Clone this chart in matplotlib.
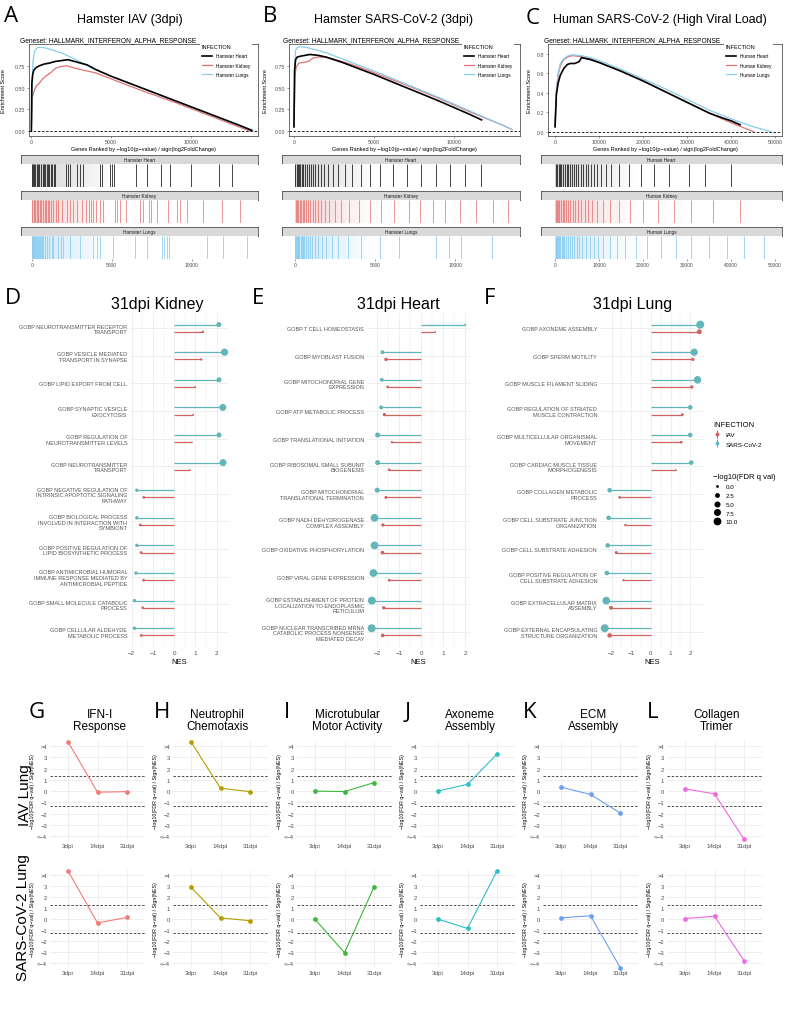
import numpy as np
import matplotlib
matplotlib.use('Agg')
import matplotlib.pyplot as plt
from matplotlib.lines import Line2D
from matplotlib.colors import LinearSegmentedColormap

plt.rcParams['font.family'] = ['Liberation Sans', 'DejaVu Sans']
plt.rcParams['axes.unicode_minus'] = True

W, H = 788, 1020

# ---------------- data: GSEA running enrichment score ----------------
gsea_titles = ['Hamster IAV (3dpi)', 'Hamster SARS-CoV-2 (3dpi)', 'Human SARS-CoV-2 (High Viral Load)']
gsea_species = ['Hamster', 'Hamster', 'Human']
tissues = ['Heart', 'Kidney', 'Lungs']

a_heart_x = [0, 30, 80, 150, 300, 500, 800, 1100, 1500, 1900, 2300, 2700, 3100, 3500, 4000, 5000, 7000, 9000, 11000, 13000, 13800]
a_heart_es = [0.0, 0.55, 0.65, 0.70, 0.73, 0.75, 0.77, 0.78, 0.80, 0.81, 0.82, 0.80, 0.78, 0.76, 0.71, 0.63, 0.49, 0.35, 0.21, 0.07, 0.01]
a_kidney_x = [0, 50, 150, 300, 500, 700, 900, 1200, 1500, 1800, 2200, 3000, 4000, 5000, 7000, 9000, 11000, 13000, 13700]
a_kidney_es = [0.05, 0.38, 0.45, 0.52, 0.55, 0.60, 0.63, 0.67, 0.72, 0.74, 0.75, 0.71, 0.67, 0.60, 0.46, 0.33, 0.19, 0.05, 0.0]
a_lungs_x = [0, 40, 100, 200, 400, 700, 1000, 1500, 2000, 3000, 4000, 5000, 7000, 9000, 11000, 13000, 13900]
a_lungs_es = [0.05, 0.45, 0.80, 0.92, 0.96, 0.96, 0.95, 0.92, 0.89, 0.80, 0.71, 0.63, 0.49, 0.35, 0.21, 0.07, 0.01]

b_heart_x = [0, 40, 100, 200, 400, 700, 1000, 1500, 2000, 3000, 4000, 5000, 7000, 9000, 11000, 11700]
b_heart_es = [0.05, 0.70, 0.82, 0.85, 0.86, 0.87, 0.88, 0.87, 0.85, 0.79, 0.72, 0.65, 0.50, 0.35, 0.19, 0.13]
b_kidney_x = [0, 60, 150, 300, 600, 900, 1200, 1500, 2000, 3000, 4000, 5000, 7000, 9000, 11000, 13000, 13600]
b_kidney_es = [0.05, 0.65, 0.74, 0.78, 0.79, 0.80, 0.84, 0.85, 0.85, 0.80, 0.74, 0.67, 0.53, 0.38, 0.22, 0.07, 0.02]
b_lungs_x = [0, 40, 100, 200, 400, 800, 1200, 2000, 3000, 4000, 5000, 7000, 9000, 11000, 13000, 13600]
b_lungs_es = [0.08, 0.75, 0.92, 0.96, 0.97, 0.96, 0.94, 0.90, 0.83, 0.76, 0.69, 0.54, 0.39, 0.23, 0.07, 0.02]

c_heart_x = [0, 300, 700, 1200, 2000, 2800, 3500, 4500, 5500, 6000, 7000, 8000, 10000, 15000, 20000, 25000, 30000, 35000, 38000, 40000, 42000]
c_heart_es = [0.05, 0.38, 0.50, 0.58, 0.65, 0.69, 0.70, 0.70, 0.72, 0.76, 0.75, 0.74, 0.71, 0.62, 0.52, 0.41, 0.30, 0.19, 0.14, 0.11, 0.07]
c_kidney_x = [0, 300, 700, 1200, 2000, 3000, 4000, 6000, 8000, 10000, 15000, 20000, 25000, 30000, 35000, 40000, 45000]
c_kidney_es = [0.05, 0.42, 0.58, 0.68, 0.74, 0.77, 0.78, 0.77, 0.75, 0.71, 0.62, 0.52, 0.41, 0.30, 0.19, 0.09, 0.0]
c_lungs_x = [0, 300, 700, 1200, 2000, 3000, 4000, 6000, 8000, 10000, 15000, 20000, 25000, 30000, 35000, 40000, 45000, 49000]
c_lungs_es = [0.05, 0.40, 0.60, 0.70, 0.75, 0.78, 0.79, 0.78, 0.76, 0.73, 0.64, 0.54, 0.44, 0.33, 0.22, 0.13, 0.05, 0.0]

# gene-set hit positions (rank) for the barcode panels
a_heart_hits = [40, 100, 170, 230, 310, 400, 480, 560, 690, 750, 830, 940, 1020, 1100, 1190, 1290, 1400, 1480,
                2150, 2250, 2400, 2850, 3020, 3230, 4270, 4420, 4900, 5020, 5170, 6520, 7210, 8100, 8650, 9980, 11730, 12540]
a_kidney_hits = [40, 125, 210, 310, 415, 500, 600, 730, 810, 920, 1000, 1100, 1230, 1350, 1500, 1670, 1875, 2190,
                 2400, 2600, 2810, 3125, 3400, 3600, 3690, 3810, 4000, 4270, 4480, 5210, 5350, 5520, 5900, 6770,
                 6940, 7310, 7460, 7810, 8540, 9060, 9270, 9690, 10730, 11880, 13020]
a_lungs_hits = [20, 60, 110, 160, 210, 260, 320, 380, 440, 500, 560, 620, 690, 830, 940, 1100, 1250, 1350, 1670,
                1830, 1980, 2400, 3020, 3850, 4060, 4270, 5100, 6460, 7190, 8170, 8270, 8440, 8600, 10940, 11980, 13440]
b_heart_hits = [30, 100, 170, 250, 330, 420, 520, 620, 730, 850, 980, 1120, 1260, 1420, 1600, 1800, 2050, 2350,
                2700, 3100, 3550, 4150, 4700, 5300, 6100, 7000, 7900, 8800, 9700, 10600, 11600]
b_kidney_hits = [40, 120, 200, 290, 380, 480, 580, 700, 820, 950, 1100, 1250, 1420, 1600, 1850, 2150, 2500, 2900,
                 3400, 4000, 4700, 5400, 6200, 7100, 7800, 8600, 9400, 10300, 11300, 12400, 13300]
b_lungs_hits = [20, 60, 110, 160, 220, 280, 350, 420, 500, 590, 690, 800, 930, 1080, 1250, 1450, 1700, 1950,
                2300, 2700, 3300, 4100, 5300, 6500, 8800, 9600, 10400, 12300]
c_heart_hits = [200, 500, 800, 1100, 1400, 1800, 2200, 2600, 3000, 3400, 3800, 4300, 4800, 5300, 5800, 6400, 7000,
                7600, 8200, 8900, 9600, 10400, 11500, 12800, 14500, 16800, 19500, 22500, 26000, 30500, 34000, 40000]
c_kidney_hits = [150, 400, 700, 1000, 1300, 1700, 2100, 2500, 3000, 3500, 4000, 4600, 5200, 5900, 6700, 7500, 8400,
                 9500, 11000, 12500, 14500, 17000, 20000, 23500, 27000, 31000, 36000, 42000]
c_lungs_hits = [100, 300, 500, 700, 900, 1200, 1500, 1800, 2100, 2500, 2900, 3300, 3800, 4300, 4900, 5500, 6200,
                7000, 7900, 8800, 9800, 11000, 12500, 14000, 16000, 18500, 21000, 24000, 27500, 31000, 35000,
                39000, 43000, 47500]

# ---------------- data: 31dpi lollipops ----------------
d_terms = ['GOBP NEUROTRANSMITTER RECEPTOR\nTRANSPORT', 'GOBP VESICLE MEDIATED\nTRANSPORT IN SYNAPSE',
           'GOBP LIPID EXPORT FROM CELL', 'GOBP SYNAPTIC VESICLE\nEXOCYTOSIS',
           'GOBP REGULATION OF\nNEUROTRANSMITTER LEVELS', 'GOBP NEUROTRANSMITTER\nTRANSPORT',
           'GOBP NEGATIVE REGULATION OF\nINTRINSIC APOPTOTIC SIGNALING\nPATHWAY',
           'GOBP BIOLOGICAL PROCESS\nINVOLVED IN INTERACTION WITH\nSYMBIONT',
           'GOBP POSITIVE REGULATION OF\nLIPID BIOSYNTHETIC PROCESS',
           'GOBP ANTIMICROBIAL HUMORAL\nIMMUNE RESPONSE MEDIATED BY\nANTIMICROBIAL PEPTIDE',
           'GOBP SMALL MOLECULE CATABOLIC\nPROCESS', 'GOBP CELLULAR ALDEHYDE\nMETABOLIC PROCESS']
d_sars_nes = [2.10, 2.37, 2.11, 2.29, 2.11, 2.30, -1.76, -1.76, -1.76, -1.80, -1.87, -1.87]
d_sars_q = [6, 13, 6, 12, 6, 12, 2.5, 2.5, 2.5, 2.5, 2.5, 2.5]
d_iav_nes = [1.35, 1.27, 0.98, 0.90, 0.83, 0.75, -1.43, -1.60, -1.56, -1.44, -1.48, -1.55]
d_iav_q = [1, 1, 0.5, 0.3, 0, 0, 1.5, 1.5, 1.5, 1.5, 1.5, 1.5]

e_terms = ['GOBP T CELL HOMEOSTASIS', 'GOBP MYOBLAST FUSION', 'GOBP MITOCHONDRIAL GENE\nEXPRESSION',
           'GOBP ATP METABOLIC PROCESS', 'GOBP TRANSLATIONAL INITIATION',
           'GOBP RIBOSOMAL SMALL SUBUNIT\nBIOGENESIS', 'GOBP MITOCHONDRIAL\nTRANSLATIONAL TERMINATION',
           'GOBP NADH DEHYDROGENASE\nCOMPLEX ASSEMBLY', 'GOBP OXIDATIVE PHOSPHORYLATION',
           'GOBP VIRAL GENE EXPRESSION',
           'GOBP ESTABLISHMENT OF PROTEIN\nLOCALIZATION TO ENDOPLASMIC\nRETICULUM',
           'GOBP NUCLEAR TRANSCRIBED MRNA\nCATABOLIC PROCESS NONSENSE\nMEDIATED DECAY']
e_sars_nes = [2.00, -1.76, -1.79, -1.82, -1.98, -1.98, -2.00, -2.12, -2.12, -2.17, -2.24, -2.25]
e_sars_q = [0.5, 3.5, 3.5, 3.5, 6, 6, 6, 15, 15, 15, 16, 16]
e_iav_nes = [0.64, -1.60, -1.52, -1.67, -1.33, -1.45, -1.60, -1.74, -1.76, -1.45, -1.70, -1.75]
e_iav_q = [0, 2.5, 1.5, 2.5, 1, 1.5, 2, 2.5, 3, 1.5, 2.5, 3]

f_terms = ['GOBP AXONEME ASSEMBLY', 'GOBP SPERM MOTILITY', 'GOBP MUSCLE FILAMENT SLIDING',
           'GOBP REGULATION OF STRIATED\nMUSCLE CONTRACTION', 'GOBP MULTICELLULAR ORGANISMAL\nMOVEMENT',
           'GOBP CARDIAC MUSCLE TISSUE\nMORPHOGENESIS', 'GOBP COLLAGEN METABOLIC\nPROCESS',
           'GOBP CELL SUBSTRATE JUNCTION\nORGANIZATION', 'GOBP CELL SUBSTRATE ADHESION',
           'GOBP POSITIVE REGULATION OF\nCELL SUBSTRATE ADHESION', 'GOBP EXTRACELLULAR MATRIX\nASSEMBLY',
           'GOBP EXTERNAL ENCAPSULATING\nSTRUCTURE ORGANIZATION']
f_sars_nes = [2.51, 2.20, 2.37, 2.00, 2.00, 2.05, -2.10, -2.15, -2.20, -2.24, -2.27, -2.35]
f_sars_q = [16, 13, 14, 5, 5, 5, 5, 5, 5, 5, 15, 16]
f_iav_nes = [2.46, 2.13, 2.08, 1.60, 1.54, 1.27, -1.59, -1.30, -1.76, -1.39, -2.03, -2.10]
f_iav_q = [6, 2.5, 2.5, 1.5, 1.5, 0, 1.5, 1, 2, 1, 3.5, 5]

q_levels = [0.0, 2.5, 5.0, 7.5, 10.0]

# ---------------- data: lung time courses ----------------
tc_letters = ['G', 'H', 'I', 'J', 'K', 'L']
tc_titles = ['IFN-I\nResponse', 'Neutrophil\nChemotaxis', 'Microtubular\nMotor Activity',
             'Axoneme\nAssembly', 'ECM\nAssembly', 'Collagen\nTrimer']
timepoints = ['3dpi', '14dpi', '31dpi']
tc_iav = [[4.4, -0.10, -0.05], [4.4, 0.25, -0.05], [0.0, -0.05, 0.75],
          [0.0, 0.60, 3.3], [0.35, -0.30, -1.95], [0.2, -0.25, -4.3]]
tc_sars = [[4.4, -0.35, 0.15], [2.9, 0.10, -0.15], [0.0, -3.05, 2.95],
           [0.0, -0.85, 4.4], [0.1, 0.30, -4.4], [0.05, 0.25, -3.8]]
tc_yticks = [4, 3, 2, 1, 0, -1, -2, -3, -4]
tc_yticklabels = ['>4', '3', '2', '1', '0', '\u22121', '\u22122', '\u22123', '<\u22124']

# ---------------- styling ----------------
tissue_cols = ['black', '#E27272', '#87CEEB']
bar_cols = ['black', '#E26D6D', '#7EC8EE']
grad_cols = ['#9A9A9A', '#E89090', '#8CCBEF']
SARS_COL = '#62B5B8'
IAV_COL = '#D0625F'
tc_cols = ['#F07C75', '#B79F00', '#3DB83C', '#2DBFC4', '#6C9FF5', '#EE6AE0']
GRID = '#EBEBEB'
TICK = '#4D4D4D'
LETTER_FONT = ['Open Sans', 'DejaVu Sans']

fig = plt.figure(figsize=(W / 100, H / 100), dpi=100)


def px_axes(l, t, r, b):
    return fig.add_axes([l / W, 1 - b / H, (r - l) / W, (b - t) / H])


def px_text(x, y, s, **kw):
    kw.setdefault('ha', 'center')
    kw.setdefault('va', 'center')
    fig.text(x / W, 1 - y / H, s, **kw)


def qsize(q):
    return 1 + 2.0 * np.asarray(q, dtype=float)


# ================= A-C : GSEA plots =================
curves = [
    [(a_heart_x, a_heart_es), (a_kidney_x, a_kidney_es), (a_lungs_x, a_lungs_es)],
    [(b_heart_x, b_heart_es), (b_kidney_x, b_kidney_es), (b_lungs_x, b_lungs_es)],
    [(c_heart_x, c_heart_es), (c_kidney_x, c_kidney_es), (c_lungs_x, c_lungs_es)],
]
hits = [
    [a_heart_hits, a_kidney_hits, a_lungs_hits],
    [b_heart_hits, b_kidney_hits, b_lungs_hits],
    [c_heart_hits, c_kidney_hits, c_lungs_hits],
]
top_boxes = [(29, 45, 258, 137), (289, 45, 520, 137), (548, 45, 782, 137)]
top_xlims = [(-150, 14200), (-310, 14100), (-1600, 51500)]
top_ylims = [(-0.055, 1.0), (-0.055, 1.0), (-0.045, 0.9)]
top_yticks = [[0, 0.25, 0.5, 0.75], [0, 0.25, 0.5, 0.75], [0, 0.2, 0.4, 0.6, 0.8]]
top_yfmt = ['{:.2f}', '{:.2f}', '{:.1f}']
x_ticks = [[0, 5000, 10000], [0, 5000, 10000], [0, 10000, 20000, 30000, 40000, 50000]]
letters_abc = [('A', 11, 17), ('B', 270, 17), ('C', 533, 18)]
title_x = [130, 393, 660]
geneset_x = [20, 283, 544]
ylab_x = [6, 268, 532]

bar_spans = [(21, 258), (282, 520), (541, 782)]
bar_xlims = [(-670, 14140), (-810, 14060), (-3200, 51600)]
strip_rows = [(156, 165, 188), (192, 201, 224), (228, 237, 260)]

for i in range(3):
    l, t, r, b = top_boxes[i]
    ax = px_axes(l, t, r, b)
    for j, (xs, es) in enumerate(curves[i]):
        ax.plot(xs, es, color=tissue_cols[j], lw=1.2 if j == 0 else 0.9,
                label=f'{gsea_species[i]} {tissues[j]}', zorder=4 if j == 0 else 3)
    ax.axhline(0, color='black', ls='--', lw=0.6, dashes=(3, 2))
    ax.set_xlim(*top_xlims[i])
    ax.set_ylim(*top_ylims[i])
    ax.set_xticks(x_ticks[i])
    ax.set_xticklabels([str(v) for v in x_ticks[i]])
    ax.set_yticks(top_yticks[i])
    ax.set_yticklabels([top_yfmt[i].format(v) for v in top_yticks[i]])
    ax.tick_params(labelsize=3.8, colors=TICK, length=1.5, width=0.4, pad=1)
    for s in ax.spines.values():
        s.set_linewidth(0.5)
        s.set_color('#333333')
    ax.set_xlabel('Genes Ranked by \u2212log10(p\u2212value) / sign(log2FoldChange)', fontsize=4, labelpad=1)
    ax.set_ylabel('Enrichment Score', fontsize=4, labelpad=1)
    ax.yaxis.set_label_coords((ylab_x[i] - l) / (r - l), 0.5)
    leg = ax.legend(title='INFECTION', loc='upper left',
                    bbox_to_anchor=((r - 60 - l) / (r - l), 1.04), fontsize=3.4,
                    title_fontsize=4, frameon=True, framealpha=1, edgecolor='none',
                    handlelength=2.2, borderpad=0.3, labelspacing=0.9, fancybox=False)
    leg._legend_box.align = 'left'
    px_text(title_x[i], 20, gsea_titles[i], fontsize=9)
    px_text(geneset_x[i], 41, 'Geneset: HALLMARK_INTERFERON_ALPHA_RESPONSE', fontsize=4.8, ha='left')
    lt, lx, ly = letters_abc[i]
    px_text(lx, ly, lt, fontsize=16, family=LETTER_FONT)

    # barcode panels
    bl, br = bar_spans[i]
    for j in range(3):
        st, pt, pb = strip_rows[j]
        sax = px_axes(bl, st, br, pt)
        sax.set_facecolor('#D9D9D9')
        sax.set_xticks([])
        sax.set_yticks([])
        for s in sax.spines.values():
            s.set_linewidth(0.5)
            s.set_color('#333333')
        sax.text(0.5, 0.5, f'{gsea_species[i]} {tissues[j]}', fontsize=3.4, ha='center',
                 va='center', transform=sax.transAxes, color='#1A1A1A')
        bax = px_axes(bl, pt, br, pb)
        xmax = bar_xlims[i][1]
        cmap = LinearSegmentedColormap.from_list('g', [grad_cols[j], 'white'])
        bax.imshow(np.linspace(0, 1, 200)[None, :], extent=(0, xmax * 0.35, 0, 1), aspect='auto',
                   cmap=cmap, alpha=0.45, zorder=0)
        bax.vlines(hits[i][j], 0, 1, color=bar_cols[j], lw=0.6, alpha=0.85, zorder=2)
        bax.set_xlim(*bar_xlims[i])
        bax.set_ylim(0, 1)
        bax.set_yticks([])
        for s in bax.spines.values():
            s.set_visible(False)
        if j == 2:
            bax.set_xticks(x_ticks[i])
            bax.set_xticklabels([str(v) for v in x_ticks[i]])
            bax.tick_params(labelsize=3.5, colors=TICK, length=1.5, width=0.4, pad=1)
        else:
            bax.set_xticks([])

# ================= D-F : 31dpi lollipops =================
loll = [
    (d_terms, d_sars_nes, d_sars_q, d_iav_nes, d_iav_q),
    (e_terms, e_sars_nes, e_sars_q, e_iav_nes, e_iav_q),
    (f_terms, f_sars_nes, f_sars_q, f_iav_nes, f_iav_q),
]
loll_titles = ['31dpi Kidney', '31dpi Heart', '31dpi Lung']
loll_boxes = [(130, 314, 229, 648), (367, 314, 470, 648), (600, 314, 705, 648)]
loll_xlims = [(-2.08, 2.58), (-2.46, 2.21), (-2.59, 2.75)]
loll_title_x = [157, 398, 633]
letters_def = [('D', 13, 298), ('E', 258, 298), ('F', 490, 298)]
dodge = 0.13

for k in range(3):
    terms, sn, sq, inn, iq = loll[k]
    rows = np.arange(len(terms))
    ax = px_axes(*loll_boxes[k])
    ax.hlines(rows - dodge, 0, sn, color=SARS_COL, lw=0.9, zorder=2)
    ax.scatter(sn, rows - dodge, s=qsize(sq), color=SARS_COL, linewidths=0, zorder=3)
    ax.hlines(rows + dodge, 0, inn, color=IAV_COL, lw=0.9, zorder=2)
    ax.scatter(inn, rows + dodge, s=qsize(iq), color=IAV_COL, linewidths=0, zorder=3)
    ax.set_xlim(*loll_xlims[k])
    ax.set_ylim(len(terms) - 0.45, -0.55)
    ax.set_yticks(rows)
    ax.set_yticklabels(terms, fontsize=4.0, color='#555555', linespacing=1.15)
    ax.set_xticks([-2, -1, 0, 1, 2])
    ax.set_xticks([-1.5, -0.5, 0.5, 1.5], minor=True)
    ax.set_xticklabels(['\u22122', '\u22121', '0', '1', '2'])
    ax.tick_params(axis='both', which='both', length=0, pad=2)
    ax.tick_params(axis='x', labelsize=4.5, colors=TICK)
    ax.grid(which='major', color=GRID, lw=0.6)
    ax.grid(which='minor', axis='x', color=GRID, lw=0.35)
    ax.set_axisbelow(True)
    for s in ax.spines.values():
        s.set_visible(False)
    ax.set_xlabel('NES', fontsize=5.5, labelpad=2)
    px_text(loll_title_x[k], 305, loll_titles[k], fontsize=11.5)
    lt, lx, ly = letters_def[k]
    px_text(lx, ly, lt, fontsize=16, family=LETTER_FONT)

# legends for D-F
inf_handles = [
    (Line2D([], [], color=IAV_COL, marker='|', markersize=6, mew=0.8, ls=''),
     Line2D([], [], color=IAV_COL, marker='o', markersize=1.8, ls='')),
    (Line2D([], [], color=SARS_COL, marker='|', markersize=6, mew=0.8, ls=''),
     Line2D([], [], color=SARS_COL, marker='o', markersize=1.8, ls='')),
]
leg1 = fig.legend(inf_handles, ['IAV', 'SARS-CoV-2'], title='INFECTION', loc='upper left',
                  bbox_to_anchor=(709 / W, 1 - 418 / H), frameon=False, fontsize=4.5,
                  title_fontsize=5.5, handlelength=1.2, labelspacing=0.6, borderpad=0.2)
leg1._legend_box.align = 'left'
size_handles = [Line2D([], [], ls='', marker='o', color='black',
                       markersize=np.sqrt(qsize(v))) for v in q_levels]
leg2 = fig.legend(size_handles, [f'{v:.1f}' for v in q_levels], title='\u2212log10(FDR q val)',
                  loc='upper left', bbox_to_anchor=(709 / W, 1 - 470 / H), frameon=False,
                  fontsize=4.5, title_fontsize=5.5, handlelength=1.2, labelspacing=0.55, borderpad=0.2)
leg2._legend_box.align = 'left'

# ================= G-L : lung time courses =================
tc_lefts = [50, 173, 297, 420, 543, 667]
tc_rows = [(742, 841), (871, 968)]
tc_letter_x = [37, 162, 287, 408, 530, 653]
tc_title_x = [100, 217, 347, 470, 593, 717]
row_labels = [('IAV Lung', 25, 795), ('SARS-CoV-2 Lung', 23, 918)]
xs = [1, 2, 3]

for ri, series in enumerate([tc_iav, tc_sars]):
    top, bot = tc_rows[ri]
    for ci in range(6):
        ax = px_axes(tc_lefts[ci], top, tc_lefts[ci] + 95, bot)
        ax.axhline(1.3, color='#333333', ls='--', lw=0.6, dashes=(3, 2), zorder=1)
        ax.axhline(-1.3, color='#333333', ls='--', lw=0.6, dashes=(3, 2), zorder=1)
        ax.plot(xs, series[ci], color=tc_cols[ci], lw=0.8, marker='o', markersize=2.4,
                clip_on=False, zorder=3)
        ax.set_xlim(0.4, 3.6)
        ax.set_ylim(-4.35, 4.45)
        ax.set_xticks(xs)
        ax.set_xticklabels(timepoints)
        ax.set_yticks(tc_yticks)
        ax.set_yticklabels(tc_yticklabels)
        ax.tick_params(length=0, pad=2, colors=TICK)
        ax.tick_params(axis='x', labelsize=4.5)
        ax.tick_params(axis='y', labelsize=4.2)
        ax.grid(color=GRID, lw=0.6)
        ax.set_axisbelow(True)
        for s in ax.spines.values():
            s.set_visible(False)
        ax.set_ylabel('\u2212log10(FDR q\u2212val) / Sign(NES)', fontsize=3.8, labelpad=1.5)
        if ri == 0:
            px_text(tc_title_x[ci], 721, tc_titles[ci], fontsize=8.5, linespacing=1.05)
            px_text(tc_letter_x[ci], 713, tc_letters[ci], fontsize=16, family=LETTER_FONT)
    lab, lx, ly = row_labels[ri]
    px_text(lx, ly, lab, fontsize=11, rotation=90)

fig.savefig('out.png', dpi=100)
